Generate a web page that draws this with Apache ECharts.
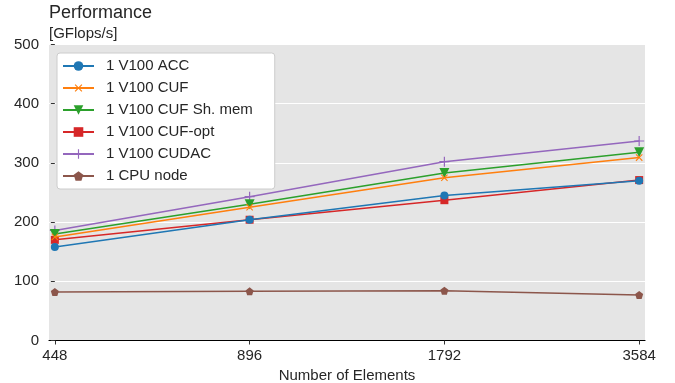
<!DOCTYPE html>
<html><head><meta charset="utf-8">
<script src="https://cdn.jsdelivr.net/npm/echarts@6/dist/echarts.min.js"></script>
<style>html,body{margin:0;padding:0;background:#fff}#c{width:675px;height:383px}</style>
</head><body><div id="c"></div>
<script>
const categories = ['448', '896', '1792', '3584'];
const yTicks = [0, 100, 200, 300, 400, 500];
const seriesNames = ['1 V100 ACC', '1 V100 CUF', '1 V100 CUF Sh. mem', '1 V100 CUF-opt', '1 V100 CUDAC', '1 CPU node'];
const acc = [158, 204, 245, 270];
const cuf = [175, 225, 275, 309];
const cufShMem = [180, 230, 283, 318];
const cufOpt = [170, 204, 237, 271];
const cudac = [186, 243, 302, 337];
const cpuNode = [82, 83, 84, 77];

const values = [acc, cuf, cufShMem, cufOpt, cudac, cpuNode];
const colors = ['#1f77b4', '#ff7f0e', '#2ca02c', '#d62728', '#9467bd', '#8c564b'];
const plusPath = 'path://M-0.12,-1H0.12V-0.12H1V0.12H0.12V1H-0.12V0.12H-1V-0.12H-0.12Z';
const pentPath = 'path://M0,-1L0.951,-0.309L0.588,0.809L-0.588,0.809L-0.951,-0.309Z';
const symbols = [
  {symbol: 'circle', size: 8, rot: 0},
  {symbol: plusPath, size: 9, rot: 45},
  {symbol: 'triangle', size: 10, rot: 180},
  {symbol: 'rect', size: 8, rot: 0},
  {symbol: plusPath, size: 10, rot: 0},
  {symbol: pentPath, size: 8, rot: 0}
];
const font = 'Liberation Sans, Arial, sans-serif';
const txt = '#262626';

const series = seriesNames.map((name, i) => ({
  name: name,
  type: 'line',
  data: values[i].map((v, j) => [j, v]),
  symbol: symbols[i].symbol,
  symbolSize: symbols[i].size,
  symbolRotate: symbols[i].rot,
  showAllSymbol: true,
  lineStyle: {color: colors[i], width: 1.5},
  itemStyle: {color: colors[i]},
  z: 10 - i,
  animation: false
}));

const chart = echarts.init(document.getElementById('c'), null, {renderer: 'canvas'});
chart.setOption({
  animation: false,
  color: colors,
  title: [
    {text: 'Performance', left: 46, top: 1, padding: 3, textStyle: {fontFamily: font, fontSize: 18, fontWeight: 'normal', color: txt}},
    {text: '[GFlops/s]', left: 46, top: 23, padding: 3, textStyle: {fontFamily: font, fontSize: 15, fontWeight: 'normal', color: txt}}
  ],
  grid: {left: 49, right: 30, top: 44.5, bottom: 42.5, show: true, backgroundColor: '#e5e5e5', borderWidth: 0, containLabel: false, outerBoundsMode: 'none'},
  legend: {
    orient: 'vertical', left: 57, top: 53,
    padding: [5, 22, 5, 5],
    backgroundColor: '#ffffff', borderColor: '#cccccc', borderWidth: 1, borderRadius: 3,
    itemWidth: 31, itemHeight: 12, itemGap: 6,
    textStyle: {fontFamily: font, fontSize: 15, lineHeight: 16, color: txt, padding: [0, 0, 0, 7]},
    data: seriesNames
  },
  xAxis: {
    type: 'value', min: -0.03, max: 3.03,
    name: 'Number of Elements', nameLocation: 'middle', nameGap: 27,
    nameTextStyle: {fontFamily: font, fontSize: 15, color: txt},
    axisLine: {show: true, lineStyle: {color: '#000', width: 1.2}},
    axisTick: {show: true, length: 4, customValues: [0, 1, 2, 3], lineStyle: {color: '#333'}},
    axisLabel: {customValues: [0, 1, 2, 3], margin: 8, fontFamily: font, fontSize: 15, color: txt,
      formatter: v => categories[Math.round(v)]},
    splitLine: {show: false}
  },
  yAxis: {
    type: 'value', min: yTicks[0], max: yTicks[yTicks.length - 1], interval: 100,
    axisLine: {show: false},
    axisTick: {show: true, length: 4, lineStyle: {color: '#333'}},
    axisLabel: {margin: 10, fontFamily: font, fontSize: 15, color: txt},
    splitLine: {show: true, lineStyle: {color: '#ffffff', width: 1}}
  },
  series: series
});
</script></body></html>
